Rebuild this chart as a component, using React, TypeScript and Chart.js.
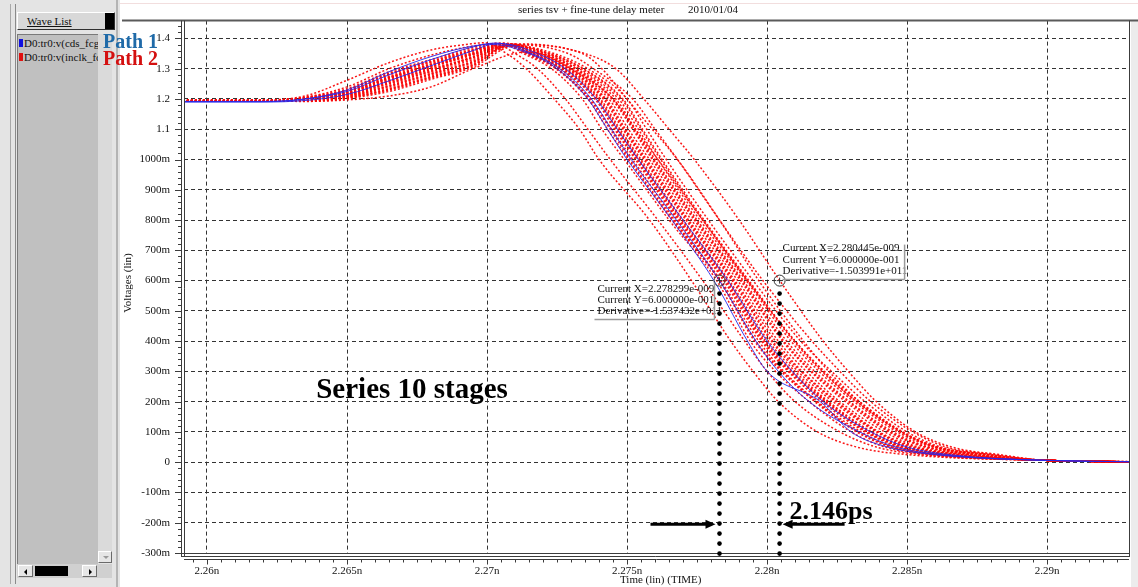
import React, { useEffect, useRef } from "react";
import { Chart, registerables } from "chart.js";

Chart.register(...registerables);

// ---- axes (time in ps, voltage in V) ----
const xTickValues = [2260, 2265, 2270, 2275, 2280, 2285, 2290];
const xTickLabels = ["2.26n", "2.265n", "2.27n", "2.275n", "2.28n", "2.285n", "2.29n"];
const yTickValues = [1.4, 1.3, 1.2, 1.1, 1.0, 0.9, 0.8, 0.7, 0.6, 0.5, 0.4, 0.3, 0.2, 0.1, 0, -0.1, -0.2, -0.3];
const yTickLabels = ["1.4", "1.3", "1.2", "1.1", "1000m", "900m", "800m", "700m", "600m", "500m", "400m", "300m", "200m", "100m", "0", "-100m", "-200m", "-300m"];
const xMin = 2259.18;
const xMax = 2292.92;
const yMin = -0.3;
const yMax = 1.459;
const xMinorStep = 0.5;
const yMinorStep = 0.02;

// ---- waveform samples ----
// Rising part: voltage of each trace at these instants (ps)
const riseTimes = [2263.5, 2265, 2266.5, 2268, 2269.5];
// Falling part: instant (ps) at which each trace crosses these levels (V)
const fallLevels = [1.35, 1.3, 1.2, 1.1, 1.0, 0.8, 0.6, 0.4, 0.3, 0.2, 0.1, 0.05, 0.025];

// Path 1 (cds_fcg) runs
const path1Start = [1.191, 1.19, 1.192];
const path1Rise = [
  [1.2, 1.225, 1.28, 1.33, 1.372],
  [1.195, 1.215, 1.26, 1.31, 1.36],
  [1.2, 1.23, 1.29, 1.34, 1.375],
];
const path1Peak = [
  [2270.3, 1.385],
  [2270.2, 1.38],
  [2270.5, 1.383],
];
const path1Fall = [
  [2271.6, 2272.6, 2273.73, 2274.44, 2275.15, 2276.76, 2278.3, 2279.6, 2280.4, 2281.5, 2283.3, 2284.6, 2286.2],
  [2271.5, 2272.5, 2273.6, 2274.3, 2275.0, 2276.6, 2278.1, 2279.3, 2280.0, 2281.9, 2283.0, 2284.3, 2286.0],
  [2271.8, 2272.8, 2273.9, 2274.65, 2275.4, 2277.0, 2278.6, 2280.0, 2280.9, 2282.0, 2283.7, 2285.0, 2286.5],
];

// Path 2 (inclk_fc) runs
const path2Start = [
  1.196, 1.195, 1.195, 1.196, 1.195, 1.194, 1.195, 1.196, 1.195, 1.194, 1.195, 1.196, 1.195, 1.194,
  1.197, 1.196, 1.193, 1.195, 1.195, 1.194, 1.195, 1.196, 1.195, 1.194, 1.195, 1.196,
];
const path2Rise = [
  [1.205, 1.234, 1.29, 1.33, 1.37],
  [1.204, 1.23, 1.285, 1.325, 1.365],
  [1.203, 1.228, 1.28, 1.32, 1.36],
  [1.202, 1.225, 1.275, 1.315, 1.355],
  [1.201, 1.222, 1.27, 1.31, 1.35],
  [1.2, 1.219, 1.265, 1.305, 1.345],
  [1.199, 1.216, 1.26, 1.3, 1.34],
  [1.198, 1.214, 1.255, 1.295, 1.335],
  [1.197, 1.211, 1.25, 1.29, 1.33],
  [1.196, 1.209, 1.245, 1.285, 1.325],
  [1.195, 1.207, 1.24, 1.28, 1.32],
  [1.195, 1.205, 1.235, 1.275, 1.315],
  [1.194, 1.203, 1.23, 1.27, 1.31],
  [1.193, 1.201, 1.225, 1.265, 1.305],
  [1.21, 1.262, 1.32, 1.362, 1.383],
  [1.206, 1.24, 1.3, 1.345, 1.375],
  [1.192, 1.197, 1.21, 1.24, 1.3],
  [1.2, 1.22, 1.27, 1.315, 1.36],
  [1.199, 1.218, 1.262, 1.305, 1.348],
  [1.198, 1.212, 1.252, 1.292, 1.338],
  [1.203, 1.229, 1.283, 1.323, 1.362],
  [1.2, 1.22, 1.268, 1.308, 1.348],
  [1.198, 1.213, 1.258, 1.298, 1.338],
  [1.196, 1.208, 1.243, 1.283, 1.323],
  [1.195, 1.204, 1.232, 1.272, 1.312],
  [1.201, 1.224, 1.272, 1.312, 1.352],
];
const path2Peak = [
  [2270.5, 1.385], [2270.6, 1.382], [2270.5, 1.38], [2270.7, 1.384], [2270.6, 1.378],
  [2270.8, 1.381], [2270.6, 1.383], [2270.7, 1.379], [2270.9, 1.382], [2270.7, 1.38],
  [2270.8, 1.377], [2270.9, 1.381], [2270.8, 1.378], [2271.0, 1.376], [2269.9, 1.386],
  [2270.3, 1.383], [2271.4, 1.355], [2271.2, 1.382], [2271.0, 1.38], [2271.1, 1.379],
  [2270.6, 1.383], [2270.7, 1.38], [2270.8, 1.382], [2270.9, 1.379], [2270.9, 1.377],
  [2270.6, 1.381],
];
const path2Fall = [
  [2271.3, 2272.3, 2273.4, 2274.1, 2274.9, 2276.5, 2278.2, 2279.4, 2280.3, 2281.5, 2283.0, 2284.2, 2285.8],
  [2271.4, 2272.45, 2273.6, 2274.3, 2275.05, 2276.6, 2278.3, 2279.55, 2280.5, 2281.7, 2283.2, 2284.4, 2286.0],
  [2271.5, 2272.5, 2273.7, 2274.45, 2275.2, 2276.7, 2278.35, 2279.7, 2280.6, 2281.8, 2283.35, 2284.5, 2286.1],
  [2271.55, 2272.6, 2273.85, 2274.55, 2275.3, 2276.8, 2278.45, 2279.8, 2280.75, 2281.95, 2283.5, 2284.7, 2286.3],
  [2271.6, 2272.7, 2273.95, 2274.65, 2275.4, 2276.9, 2278.55, 2279.9, 2280.85, 2282.1, 2283.6, 2284.85, 2286.5],
  [2271.7, 2272.8, 2274.05, 2274.75, 2275.5, 2277.0, 2278.65, 2280.05, 2281.0, 2282.2, 2283.75, 2285.0, 2286.6],
  [2271.75, 2272.85, 2274.15, 2274.85, 2275.6, 2277.1, 2278.75, 2280.15, 2281.1, 2282.35, 2283.9, 2285.1, 2286.8],
  [2271.85, 2272.95, 2274.25, 2274.95, 2275.7, 2277.2, 2278.85, 2280.3, 2281.25, 2282.5, 2284.0, 2285.3, 2286.9],
  [2271.9, 2273.0, 2274.35, 2275.05, 2275.8, 2277.3, 2278.95, 2280.4, 2281.4, 2282.6, 2284.2, 2285.4, 2287.1],
  [2272.0, 2273.1, 2274.45, 2275.2, 2275.9, 2277.4, 2279.05, 2280.55, 2281.55, 2282.8, 2284.35, 2285.6, 2287.3],
  [2272.05, 2273.2, 2274.6, 2275.3, 2276.0, 2277.5, 2279.15, 2280.7, 2281.7, 2282.95, 2284.5, 2285.75, 2287.4],
  [2272.15, 2273.3, 2274.7, 2275.4, 2276.1, 2277.6, 2279.25, 2280.85, 2281.85, 2283.1, 2284.65, 2285.9, 2287.6],
  [2272.25, 2273.45, 2274.85, 2275.55, 2276.25, 2277.75, 2279.35, 2281.0, 2282.05, 2283.3, 2284.85, 2286.05, 2287.8],
  [2272.4, 2273.6, 2275.0, 2275.7, 2276.4, 2277.9, 2279.5, 2281.2, 2282.3, 2283.5, 2285.0, 2286.2, 2288.0],
  [2270.7, 2271.4, 2272.4, 2273.3, 2274.0, 2275.8, 2277.3, 2278.7, 2279.5, 2280.4, 2281.8, 2283.2, 2285.0],
  [2271.0, 2271.8, 2272.8, 2273.6, 2274.4, 2276.1, 2277.7, 2279.2, 2280.0, 2281.0, 2282.6, 2283.9, 2285.5],
  [2271.9, 2273.0, 2274.5, 2275.3, 2276.1, 2277.7, 2279.3, 2281.0, 2282.0, 2283.2, 2284.8, 2286.0, 2287.6],
  [2273.5, 2274.6, 2275.6, 2276.5, 2277.4, 2279.0, 2280.45, 2282.0, 2282.9, 2283.9, 2285.3, 2286.6, 2288.3],
  [2273.4, 2274.1, 2275.0, 2275.9, 2276.8, 2278.3, 2279.7, 2281.3, 2282.2, 2283.3, 2284.8, 2286.1, 2287.8],
  [2272.9, 2273.8, 2275.2, 2276.0, 2276.8, 2278.3, 2279.85, 2281.6, 2282.6, 2283.7, 2285.2, 2286.4, 2288.1],
  [2271.45, 2272.5, 2273.65, 2274.4, 2275.1, 2276.65, 2278.3, 2279.6, 2280.55, 2281.75, 2283.25, 2284.45, 2286.05],
  [2271.65, 2272.75, 2274.0, 2274.7, 2275.45, 2276.95, 2278.6, 2279.95, 2280.9, 2282.15, 2283.7, 2284.9, 2286.55],
  [2271.8, 2272.9, 2274.2, 2274.9, 2275.65, 2277.15, 2278.8, 2280.2, 2281.2, 2282.45, 2283.95, 2285.2, 2286.85],
  [2272.0, 2273.15, 2274.5, 2275.25, 2275.95, 2277.45, 2279.1, 2280.6, 2281.6, 2282.9, 2284.4, 2285.7, 2287.35],
  [2272.2, 2273.4, 2274.8, 2275.5, 2276.2, 2277.7, 2279.3, 2280.95, 2281.95, 2283.2, 2284.75, 2286.0, 2287.7],
  [2271.6, 2272.65, 2273.9, 2274.6, 2275.35, 2276.85, 2278.5, 2279.85, 2280.8, 2282.05, 2283.55, 2284.8, 2286.4],
];

// settled tail shared by every run
const tailTimes = [2290, 2296];
const tailVolts = [0.006, 0];
const flatStartTimes = [2255, 2262];

// ---- measurement cursors ----
const cursorTimes = [2278.299, 2280.445]; // ps
const cursorLevel = 0.6; // V
const cursorSlopes = [-1.537432e11, -1.503991e11]; // V/s

const titleText = "series tsv + fine-tune delay meter";
const dateText = "2010/01/04";
const stageText = "Series 10 stages";
const waveNames = ["D0:tr0:v(cds_fcg", "D0:tr0:v(inclk_fc"];
const pathNames = ["Path 1", "Path 2"];

const serif = "'Liberation Serif', 'DejaVu Serif', serif";

function buildTrace(start: number, rise: number[], peak: number[], fall: number[]) {
  return [
    ...flatStartTimes.map((t) => ({ x: t, y: start })),
    ...riseTimes.map((t, k) => ({ x: t, y: rise[k] })),
    { x: peak[0], y: peak[1] },
    ...fall.map((t, k) => ({ x: t, y: fallLevels[k] })),
    ...tailTimes.map((t, k) => ({ x: t, y: tailVolts[k] })),
  ];
}

function sci(v: number) {
  const [m, e] = v.toExponential(6).split("e");
  const n = Math.abs(parseInt(e, 10));
  return `${m}e${e.startsWith("-") ? "-" : "+"}${String(n).padStart(3, "0")}`;
}

const overlay = {
  id: "overlay",
  beforeDraw(chart: any) {
    const { ctx } = chart;
    ctx.save();
    ctx.fillStyle = "#ffffff";
    ctx.fillRect(0, 0, chart.width, chart.height);
    ctx.restore();
  },
  afterDraw(chart: any) {
    const { ctx, chartArea: a } = chart;
    const xs = chart.scales.x;
    const ys = chart.scales.y;
    ctx.save();

    // right margin strip and title rules
    ctx.fillStyle = "#ececec";
    ctx.fillRect(a.right + 2, a.top, chart.width - a.right - 2, chart.height - a.top);
    ctx.strokeStyle = "#f2dede";
    ctx.lineWidth = 1;
    ctx.beginPath();
    ctx.moveTo(120, 3.5);
    ctx.lineTo(chart.width, 3.5);
    ctx.stroke();
    ctx.strokeStyle = "#5a5a5a";
    ctx.lineWidth = 2;
    ctx.beginPath();
    ctx.moveTo(122, a.top);
    ctx.lineTo(chart.width, a.top);
    ctx.stroke();

    // frame
    ctx.strokeStyle = "#3c3c3c";
    ctx.lineWidth = 1;
    const line = (x1: number, y1: number, x2: number, y2: number) => {
      ctx.beginPath();
      ctx.moveTo(x1, y1);
      ctx.lineTo(x2, y2);
      ctx.stroke();
    };
    line(a.right + 0.5, a.top, a.right + 0.5, a.bottom + 4);
    line(a.left - 3, a.bottom + 0.5, a.right + 0.5, a.bottom + 0.5);
    line(a.left - 3, a.bottom + 3.5, a.right + 0.5, a.bottom + 3.5);
    line(a.left + 0.5, a.top, a.left + 0.5, a.bottom + 4);
    line(a.left - 2.5, a.top, a.left - 2.5, a.bottom + 4);

    // x axis with minor ticks
    const axY = a.bottom + 6.5;
    line(a.left, axY, a.right, axY);
    const i0 = Math.ceil(xMin / xMinorStep);
    const i1 = Math.floor(xMax / xMinorStep);
    for (let i = i0; i <= i1; i++) {
      const t = i * xMinorStep;
      const px = Math.round(xs.getPixelForValue(t)) + 0.5;
      const major = i % 10 === 0;
      line(px, axY, px, axY + (major ? 5 : 3));
    }
    // y axis minor ticks
    const j0 = Math.ceil(yMin / yMinorStep - 1e-9);
    const j1 = Math.floor(yMax / yMinorStep + 1e-9);
    for (let j = j0; j <= j1; j++) {
      const v = j * yMinorStep;
      const py = Math.round(ys.getPixelForValue(v)) + 0.5;
      const major = j % 5 === 0;
      line(a.left - 3 - (major ? 6 : 3), py, a.left - 3, py);
    }

    // titles
    ctx.fillStyle = "#111";
    ctx.font = `11px ${serif}`;
    ctx.textBaseline = "middle";
    ctx.textAlign = "left";
    ctx.fillText(titleText, 518, 10);
    ctx.fillText(dateText, 688, 10);
    ctx.fillText("Time (lin) (TIME)", 620, 580);
    ctx.save();
    ctx.translate(128, 283);
    ctx.rotate(-Math.PI / 2);
    ctx.textAlign = "center";
    ctx.fillText("Voltages (lin)", 0, 0);
    ctx.restore();

    // cursors
    const cy = ys.getPixelForValue(cursorLevel);
    const cx = cursorTimes.map((t) => xs.getPixelForValue(t));
    cx.forEach((px) => {
      ctx.strokeStyle = "#333";
      ctx.lineWidth = 1;
      ctx.beginPath();
      ctx.arc(px, cy, 5.5, 0, Math.PI * 2);
      ctx.stroke();
      line(px - 3, cy, px + 3, cy);
      line(px, cy - 3, px, cy + 3);
      ctx.fillStyle = "#000";
      for (let y = cy + 13; y <= a.bottom + 1; y += 10) {
        ctx.beginPath();
        ctx.arc(px, y, 2.3, 0, Math.PI * 2);
        ctx.fill();
      }
    });

    // cursor readouts
    const readout = (i: number) => [
      `Current X=${sci(cursorTimes[i] * 1e-12)}`,
      `Current Y=${sci(cursorLevel)}`,
      `Derivative=${sci(cursorSlopes[i])}`,
    ];
    ctx.font = `11px ${serif}`;
    ctx.fillStyle = "#111";
    ctx.textAlign = "left";
    const r1 = readout(0);
    const b1r = cx[0] - 5;
    r1.forEach((s, k) => ctx.fillText(s, b1r - 117, cy + 9 + k * 11));
    ctx.strokeStyle = "#9a9a9a";
    ctx.lineWidth = 1.5;
    line(b1r - 120, cy + 39, b1r, cy + 39);
    line(b1r, cy + 2, b1r, cy + 39);
    const r2 = readout(1);
    const b2l = cx[1] + 3;
    r2.forEach((s, k) => ctx.fillText(s, b2l, cy - 32 + k * 11.5));
    line(b2l, cy - 1, b2l + 122, cy - 1);
    line(b2l + 122, cy - 36, b2l + 122, cy - 1);

    // delay arrows
    const ay = ys.getPixelForValue(-0.205);
    ctx.strokeStyle = "#000";
    ctx.fillStyle = "#000";
    ctx.lineWidth = 3;
    line(cx[0] - 69, ay, cx[0] - 12, ay);
    ctx.beginPath();
    ctx.moveTo(cx[0] - 4, ay);
    ctx.lineTo(cx[0] - 14, ay - 4.5);
    ctx.lineTo(cx[0] - 14, ay + 4.5);
    ctx.closePath();
    ctx.fill();
    line(cx[1] + 11, ay, cx[1] + 65, ay);
    ctx.beginPath();
    ctx.moveTo(cx[1] + 3, ay);
    ctx.lineTo(cx[1] + 13, ay - 4.5);
    ctx.lineTo(cx[1] + 13, ay + 4.5);
    ctx.closePath();
    ctx.fill();

    ctx.textBaseline = "alphabetic";
    ctx.font = `bold 26px ${serif}`;
    const delay = (cursorTimes[1] - cursorTimes[0]).toFixed(3) + "ps";
    ctx.fillText(delay, cx[1] + 10, ys.getPixelForValue(-0.188));
    ctx.font = `bold 29px ${serif}`;
    ctx.fillText(stageText, xs.getPixelForValue(2263.9), ys.getPixelForValue(0.213));

    ctx.restore();
  },
};

export default function App() {
  const ref = useRef<HTMLCanvasElement>(null);

  useEffect(() => {
    const datasets: any[] = [];
    path1Fall.forEach((fall, i) => {
      datasets.push({
        label: waveNames[0],
        data: buildTrace(path1Start[i], path1Rise[i], path1Peak[i], fall),
        borderColor: "rgba(40,40,235,0.9)",
        borderWidth: 1,
        pointRadius: 0,
        cubicInterpolationMode: "monotone",
      });
    });
    path2Fall.forEach((fall, i) => {
      datasets.push({
        label: waveNames[1],
        data: buildTrace(path2Start[i], path2Rise[i], path2Peak[i], fall),
        borderColor: "rgba(250,10,10,0.95)",
        borderWidth: 1.5,
        borderDash: [2, 2],
        pointRadius: 0,
        cubicInterpolationMode: "monotone",
      });
    });

    const tickFont = { family: serif, size: 11 };
    const chart = new Chart(ref.current!, {
      type: "line",
      data: { datasets },
      options: {
        animation: false,
        responsive: false,
        devicePixelRatio: 1,
        layout: { padding: { top: 17, right: 9, left: 0, bottom: 0 } },
        plugins: { legend: { display: false }, tooltip: { enabled: false }, title: { display: false } },
        scales: {
          x: {
            type: "linear",
            min: xMin,
            max: xMax,
            afterBuildTicks: (s: any) => {
              s.ticks = xTickValues.map((v) => ({ value: v }));
            },
            afterFit: (s: any) => {
              s.height = 34;
            },
            ticks: {
              callback: (_v: any, i: number) => xTickLabels[i],
              font: tickFont,
              color: "#111",
              padding: 12,
              maxRotation: 0,
              autoSkip: false,
            },
            grid: { drawTicks: false, color: "#333333", lineWidth: 1 },
            border: { display: false, dash: [4, 3] },
          },
          y: {
            type: "linear",
            min: yMin,
            max: yMax,
            afterBuildTicks: (s: any) => {
              s.ticks = yTickValues.map((v) => ({ value: v }));
            },
            afterFit: (s: any) => {
              s.width = 184;
            },
            ticks: {
              callback: (_v: any, i: number) => yTickLabels[i],
              font: tickFont,
              color: "#111",
              padding: 14,
              autoSkip: false,
            },
            grid: { drawTicks: false, color: "#333333", lineWidth: 1 },
            border: { display: false, dash: [4, 3] },
          },
        },
      },
      plugins: [overlay],
    } as any);
    return () => chart.destroy();
  }, []);

  const btn: React.CSSProperties = {
    position: "absolute",
    background: "#e6e6e6",
    borderTop: "1px solid #ffffff",
    borderLeft: "1px solid #ffffff",
    borderRight: "1px solid #6a6a6a",
    borderBottom: "1px solid #6a6a6a",
    boxSizing: "border-box",
  };

  return (
    <div style={{ position: "fixed", left: 0, top: 0, width: 1138, height: 587, overflow: "hidden", background: "#fff" }}>
      <canvas ref={ref} width={1138} height={587} style={{ position: "absolute", left: 0, top: 0 }} />
      {/* wave list panel */}
      <div style={{ position: "absolute", left: 0, top: 0, width: 120, height: 587, background: "#e4e4e4" }}>
        <div style={{ position: "absolute", left: 10, top: 4, width: 1, height: 580, background: "#a8a8a8" }} />
        <div style={{ position: "absolute", left: 15, top: 4, width: 1, height: 580, background: "#8a8a8a" }} />
        <div style={{ position: "absolute", left: 116, top: 0, width: 2, height: 587, background: "#b4b4b4" }} />
        <div style={{ ...btn, left: 17, top: 12, width: 98, height: 18, background: "#d8d8d8", borderRight: "1px solid #303030", borderBottom: "1px solid #303030" }}>
          <span style={{ position: "absolute", left: 9, top: 1, fontFamily: serif, fontSize: 11, lineHeight: "14px", textDecoration: "underline", color: "#111", whiteSpace: "nowrap" }}>Wave List</span>
          <div style={{ position: "absolute", right: 0, top: 0, width: 9, height: 16, background: "#000" }} />
        </div>
        <div style={{ position: "absolute", left: 17, top: 34, width: 81, height: 530, background: "#c0c0c0", borderTop: "1px solid #7a7a7a", borderLeft: "1px solid #7a7a7a", boxSizing: "border-box" }} />
        <div style={{ position: "absolute", left: 98, top: 34, width: 14, height: 517, background: "#dadada" }} />
        <div style={{ ...btn, left: 98, top: 551, width: 14, height: 12 }}>
          <div style={{ position: "absolute", left: 4, top: 4, width: 0, height: 0, borderLeft: "3px solid transparent", borderRight: "3px solid transparent", borderTop: "3px solid #9a9a9a" }} />
        </div>
        <div style={{ position: "absolute", left: 17, top: 564, width: 95, height: 14, background: "#d0d0d0" }} />
        <div style={{ ...btn, left: 18, top: 565, width: 15, height: 12 }}>
          <div style={{ position: "absolute", left: 5, top: 3, width: 0, height: 0, borderTop: "3px solid transparent", borderBottom: "3px solid transparent", borderRight: "3px solid #000" }} />
        </div>
        <div style={{ position: "absolute", left: 35, top: 566, width: 33, height: 10, background: "#000" }} />
        <div style={{ ...btn, left: 82, top: 565, width: 15, height: 12 }}>
          <div style={{ position: "absolute", left: 6, top: 3, width: 0, height: 0, borderTop: "3px solid transparent", borderBottom: "3px solid transparent", borderLeft: "3px solid #000" }} />
        </div>
        {waveNames.map((name, i) => (
          <div key={name} style={{ position: "absolute", left: 19, top: 37 + i * 14, width: 79, height: 13, overflow: "hidden", whiteSpace: "nowrap" }}>
            <div style={{ position: "absolute", left: 0, top: 2, width: 4, height: 8, background: i === 0 ? "#1010e0" : "#e01010" }} />
            <span style={{ position: "absolute", left: 5, top: 0, fontFamily: serif, fontSize: 11, lineHeight: "13px", color: "#111" }}>{name}</span>
          </div>
        ))}
      </div>
      {pathNames.map((p, i) => (
        <div key={p} style={{ position: "absolute", left: 103, top: 31 + i * 17, fontFamily: serif, fontWeight: "bold", fontSize: 20, lineHeight: "20px", color: i === 0 ? "#1f6aa8" : "#d41010", whiteSpace: "nowrap", zIndex: 2 }}>
          {p}
        </div>
      ))}
    </div>
  );
}
